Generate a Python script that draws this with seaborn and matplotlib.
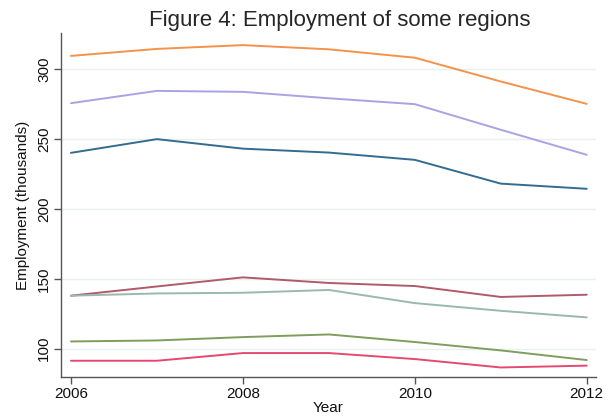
import matplotlib
matplotlib.use("Agg")
import matplotlib.pyplot as plt
import seaborn as sns
import pandas as pd

years = [2006, 2007, 2008, 2009, 2010, 2011, 2012]
region_a = [309.3, 314.3, 317.0, 314.0, 308.0, 291.0, 275.0]
region_b = [275.5, 284.3, 283.6, 279.0, 274.8, 256.5, 238.6]
region_c = [240.0, 249.8, 243.0, 240.2, 235.0, 218.0, 214.3]
region_d = [137.9, 144.5, 151.0, 147.0, 144.8, 137.0, 138.6]
region_e = [137.9, 139.5, 140.0, 142.0, 132.6, 127.1, 122.4]
region_f = [105.2, 105.9, 108.3, 110.2, 104.8, 98.8, 91.9]
region_g = [91.4, 91.4, 96.9, 96.9, 92.6, 86.6, 87.9]
regions = ["A", "B", "C", "D", "E", "F", "G"]
colors = ["#f4924b", "#aaa3e3", "#336c8e", "#b05a6c", "#9ab8b0", "#7f9e5d", "#e5496f"]

series = [region_a, region_b, region_c, region_d, region_e, region_f, region_g]
rows = []
for name, vals in zip(regions, series):
    for yr, v in zip(years, vals):
        rows.append({"Year": yr, "Employment": v, "Region": name})
df = pd.DataFrame(rows)

sns.set_style("white")
plt.rcParams['font.family'] = ['Liberation Sans', 'DejaVu Sans']

fig = plt.figure(figsize=(6.07, 4.16), dpi=100)
ax = fig.add_axes([0.1005, 0.0938, 0.881, 0.827])
sns.lineplot(data=df, x="Year", y="Employment", hue="Region", palette=colors,
             ax=ax, legend=False, linewidth=1.4)

ax.set_xlim(2005.884, 2012.105)
ax.set_ylim(79.8, 325.7)
ax.set_xticks([2006, 2008, 2010, 2012])
ax.set_yticks([100, 150, 200, 250, 300])
ax.yaxis.grid(True, color="#e8f1f2", linewidth=1)
ax.xaxis.grid(False)
for s in ["top", "right"]:
    ax.spines[s].set_visible(False)
for s in ["left", "bottom"]:
    ax.spines[s].set_color("#555555")
    ax.spines[s].set_linewidth(1)
ax.tick_params(axis="both", direction="out", length=5, width=1, color="#555555",
               labelsize=11, labelcolor="#111111", bottom=True, left=True, pad=2)
for lab in ax.get_yticklabels():
    lab.set_rotation(90)
    lab.set_va("center")
ax.set_xlabel("Year", fontsize=11, color="#111111", labelpad=0)
ax.set_ylabel("Employment (thousands)", fontsize=11, color="#111111", labelpad=5)
fig.suptitle("Figure 4: Employment of some regions", fontsize=16, y=0.975, x=0.56)

fig.savefig("out.png", dpi=100)
